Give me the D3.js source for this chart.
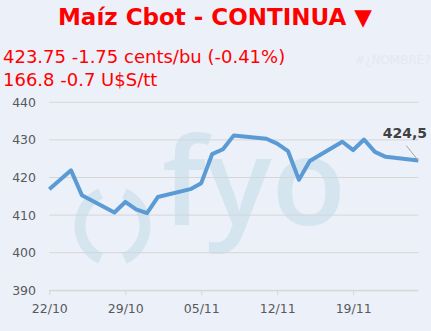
<!DOCTYPE html>
<html><head><meta charset="utf-8">
<script src="https://cdn.jsdelivr.net/npm/d3@7"></script>
<style>
html,body{margin:0;padding:0;background:#ecf0f9;}
svg{display:block;}
</style></head>
<body>
<script>
const dates = ["2019-10-22","2019-10-23","2019-10-24","2019-10-25","2019-10-28","2019-10-29","2019-10-30","2019-10-31","2019-11-01","2019-11-04","2019-11-05","2019-11-06","2019-11-07","2019-11-08","2019-11-11","2019-11-12","2019-11-13","2019-11-14","2019-11-15","2019-11-18","2019-11-19","2019-11-20","2019-11-21","2019-11-22","2019-11-25"];
const prices = [416.9,419.4,421.9,415.3,410.7,413.5,411.5,410.5,414.8,416.9,418.5,426.2,427.5,431.2,430.3,429.0,427.0,419.4,424.4,429.5,427.3,430.1,426.8,425.5,424.5];
const yTicks = [390,400,410,420,430,440];
const xTickDates = ["2019-10-22","2019-10-29","2019-11-05","2019-11-12","2019-11-19"];
const title = "Maíz Cbot - CONTINUA ▼";
const line1 = "423.75 -1.75 cents/bu (-0.41%)";
const line2 = "166.8 -0.7 U$S/tt";
const lastLabel = "424,5";

const W=431,H=331;
const parse=d3.timeParse("%Y-%m-%d");
const data=dates.map((d,i)=>({date:parse(d),v:prices[i]}));
const svg=d3.select("body").append("svg").attr("width",W).attr("height",H);
svg.append("rect").attr("width",W).attr("height",H).attr("fill","#ecf0f9");

const x=d3.scaleTime().domain([parse("2019-10-22"),parse("2019-11-25")]).range([49.3,418.3]);
const y=d3.scaleLinear().domain([390,440]).range([290.3,102.3]);

// watermark
const wm=svg.append("g").attr("fill","#d4e5f0").attr("stroke","#d4e5f0");
const arcL=d3.path();
arcL.arc(116,226,36,Math.PI*0.64,Math.PI*1.36);
wm.append("path").attr("d",arcL.toString()).attr("fill","none").attr("stroke-width",11);
const arcR=d3.path();
arcR.arc(109,226,36,-Math.PI*0.36,Math.PI*0.36);
wm.append("path").attr("d",arcR.toString()).attr("fill","none").attr("stroke-width",11);
wm.append("text").attr("x",162).attr("y",225).attr("stroke","none")
  .attr("font-family","Open Sans").attr("font-weight","600").attr("font-size",122).text("fyo");

// grid
svg.append("g").selectAll("line").data(yTicks).join("line")
  .attr("x1",49.3).attr("x2",418.3).attr("y1",d=>y(d)).attr("y2",d=>y(d))
  .attr("stroke","#d6d6d6").attr("stroke-width",1);

// y axis labels
const ya=svg.append("g").attr("transform","translate(36,0)")
  .call(d3.axisLeft(y).tickValues(yTicks).tickSize(0).tickPadding(0));
ya.select(".domain").remove();
ya.selectAll("text").attr("font-family","DejaVu Sans").attr("font-size",12.5).attr("fill","#595959");

// x axis
const xa=svg.append("g").attr("transform",`translate(0,${y(390)})`)
  .call(d3.axisBottom(x).tickValues(xTickDates.map(parse)).tickFormat(d3.timeFormat("%d/%m")).tickSize(5).tickPadding(9));
xa.select(".domain").attr("stroke","#d6d6d6").attr("d",`M49.3,0.5H418.3`);
xa.selectAll("line").attr("stroke","#d6d6d6");
xa.selectAll("text").attr("font-family","DejaVu Sans").attr("font-size",12.5).attr("fill","#595959");

// line
svg.append("path").datum(data)
  .attr("fill","none").attr("stroke","#5b9bd5").attr("stroke-width",4).attr("stroke-linejoin","round")
  .attr("d",d3.line().x(d=>x(d.date)).y(d=>y(d.v)));

// last label
const last=data[data.length-1];
svg.append("line").attr("x1",x(last.date)-12).attr("y1",y(last.v)-15).attr("x2",x(last.date)).attr("y2",y(last.v))
  .attr("stroke","#a6a6a6").attr("stroke-width",1);
svg.append("text").attr("x",427).attr("y",138).attr("text-anchor","end")
  .attr("font-family","DejaVu Sans").attr("font-weight","bold").attr("font-size",14).attr("fill","#404040").text(lastLabel);

// titles
svg.append("text").attr("x",215).attr("y",25).attr("text-anchor","middle")
  .attr("font-family","DejaVu Sans").attr("font-weight","bold").attr("font-size",23).attr("fill","#ff0000").text(title);
svg.append("text").attr("x",3).attr("y",63)
  .attr("font-family","DejaVu Sans").attr("font-size",18).attr("fill","#ff0000").text(line1);
svg.append("text").attr("x",3).attr("y",86)
  .attr("font-family","DejaVu Sans").attr("font-size",18).attr("fill","#ff0000").text(line2);
svg.append("text").attr("x",355).attr("y",64)
  .attr("font-family","DejaVu Sans").attr("font-size",12).attr("fill","#e5e8f0").text("#¿NOMBRE?");
</script>
</body></html>
